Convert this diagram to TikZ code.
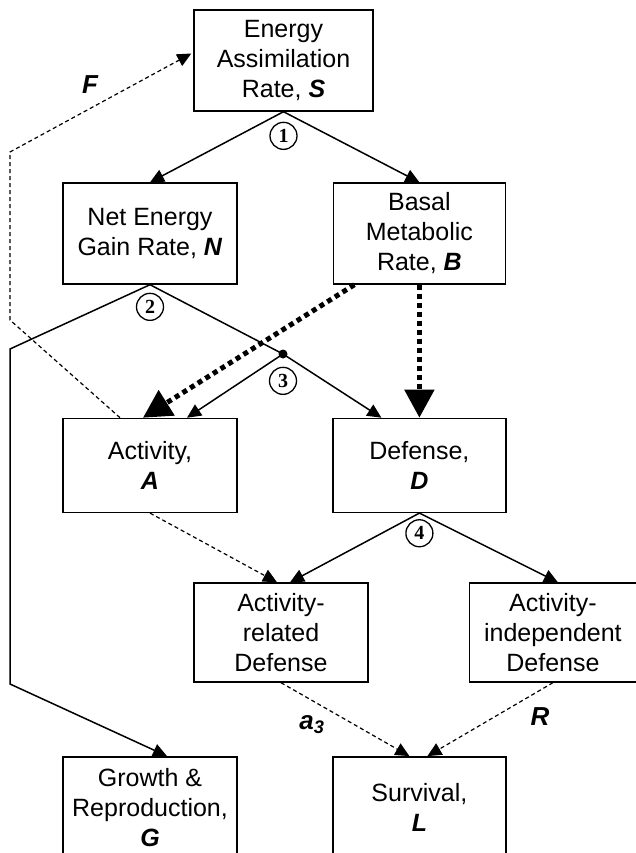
\documentclass[tikz,border=0pt]{standalone}
\usepackage{fontspec}
\setmainfont{Liberation Sans}
\newfontfamily\numfont{Liberation Serif}
\usetikzlibrary{arrows.meta,positioning,calc}
\tikzset{
  box/.style={draw, line width=1.4pt, align=center, minimum width=174pt,
              minimum height=101pt, inner sep=2pt, font=\fontsize{25}{30}\selectfont},
  num/.style={circle, draw, line width=1.3pt, inner sep=0pt, minimum size=27pt,
              font=\numfont\bfseries\fontsize{20}{20}\selectfont},
  dot/.style={circle, fill, inner sep=0pt, minimum size=9pt},
  arrow/.style={-{Triangle[length=14pt,width=13pt]}, line width=1.5pt},
  dasharrow/.style={arrow, line width=1.2pt, dash pattern=on 4pt off 3pt},
  fatarrow/.style={-{Triangle[length=28pt,width=29pt]}, line width=5pt,
                   dash pattern=on 5pt off 4pt},
  tag/.style={font=\fontsize{26}{30}\selectfont\bfseries\itshape, inner sep=0pt},
}
\begin{document}
\begin{tikzpicture}[x=1pt,y=-1pt]
  \useasboundingbox (0,0) rectangle (636,853);
  \clip (0,0) rectangle (636,853);
  \node[box, minimum width=179pt] (S) at (283.5,60.5) {Energy\\Assimilation\\Rate, \textbf{\textit{S}}};
  \node[box] (N) at (150,233.5) {Net Energy\\Gain Rate, \textbf{\textit{N}}};
  \node[box, minimum width=172pt, right=95pt of N] (B) {Basal\\Metabolic\\Rate, \textbf{\textit{B}}};
  \node[box, minimum height=94pt, below=133pt of N] (A) {Activity,\\\textbf{\textit{A}}};
  \node[box, minimum width=173pt, minimum height=94pt, below=133pt of B] (D) {Defense,\\\textbf{\textit{D}}};
  \node[box, minimum height=99pt] (ARD) at (281,632.5) {Activity-\\related\\Defense};
  \node[box, minimum width=167pt, minimum height=99pt, right=100pt of ARD] (AID) {Activity-\\independent\\Defense};
  \node[box, below=243pt of A] (G) {Growth \&\\Reproduction,\\\textbf{\textit{G}}};
  \node[box, minimum width=173pt, below=243pt of D] (L) {Survival,\\\textbf{\textit{L}}};
  % junction and step numbers
  \node[dot] (j) at (283,354) {};
  \node[num, below=10pt of S.south] (c1) {1};
  \node[num, below=8pt of N.south] (c2) {2};
  \node[num, below=8pt of j] (c3) {3};
  \node[num, below=6pt of D.south] (c4) {4};
  \node[tag] (F) at (90,85) {F};
  \node[tag] (a3) at (312,725) {a\textsubscript{3}};
  \node[tag] (R) at (540,717) {R};
  % allocation
  \draw[arrow] (S.south) -- (N.north);
  \draw[arrow] (S.south) -- (B.north);
  \draw[arrow] (N.south) -- (10,349) -- (10,684) -- ($(G.north)+(17,0)$);
  \draw[arrow] (N.south) -- (j.center) -- ($(D.north)+(-38,0)$);
  \draw[arrow] (j.center) -- ($(A.north)+(37,0)$);
  \draw[fatarrow] ($(B.south)+(-65,0)$) -- ($(A.north)+(-7,0)$);
  \draw[fatarrow] (B.south) -- (D.north);
  \draw[dasharrow] ($(A.north)+(-30,0)$) -- (10,320) -- (10,152) -- ($(S.west)+(-2,-7)$);
  \draw[dasharrow] (A.south) -- ($(ARD.north)+(-4,0)$);
  \draw[arrow] (D.south) -- ($(ARD.north)+(9,0)$);
  \draw[arrow] (D.south) -- ($(AID.north)+(5,0)$);
  \draw[dasharrow] (ARD.south) -- ($(L.north)+(-10,0)$);
  \draw[dasharrow] (AID.south) -- ($(L.north)+(8,0)$);
\end{tikzpicture}
\end{document}
